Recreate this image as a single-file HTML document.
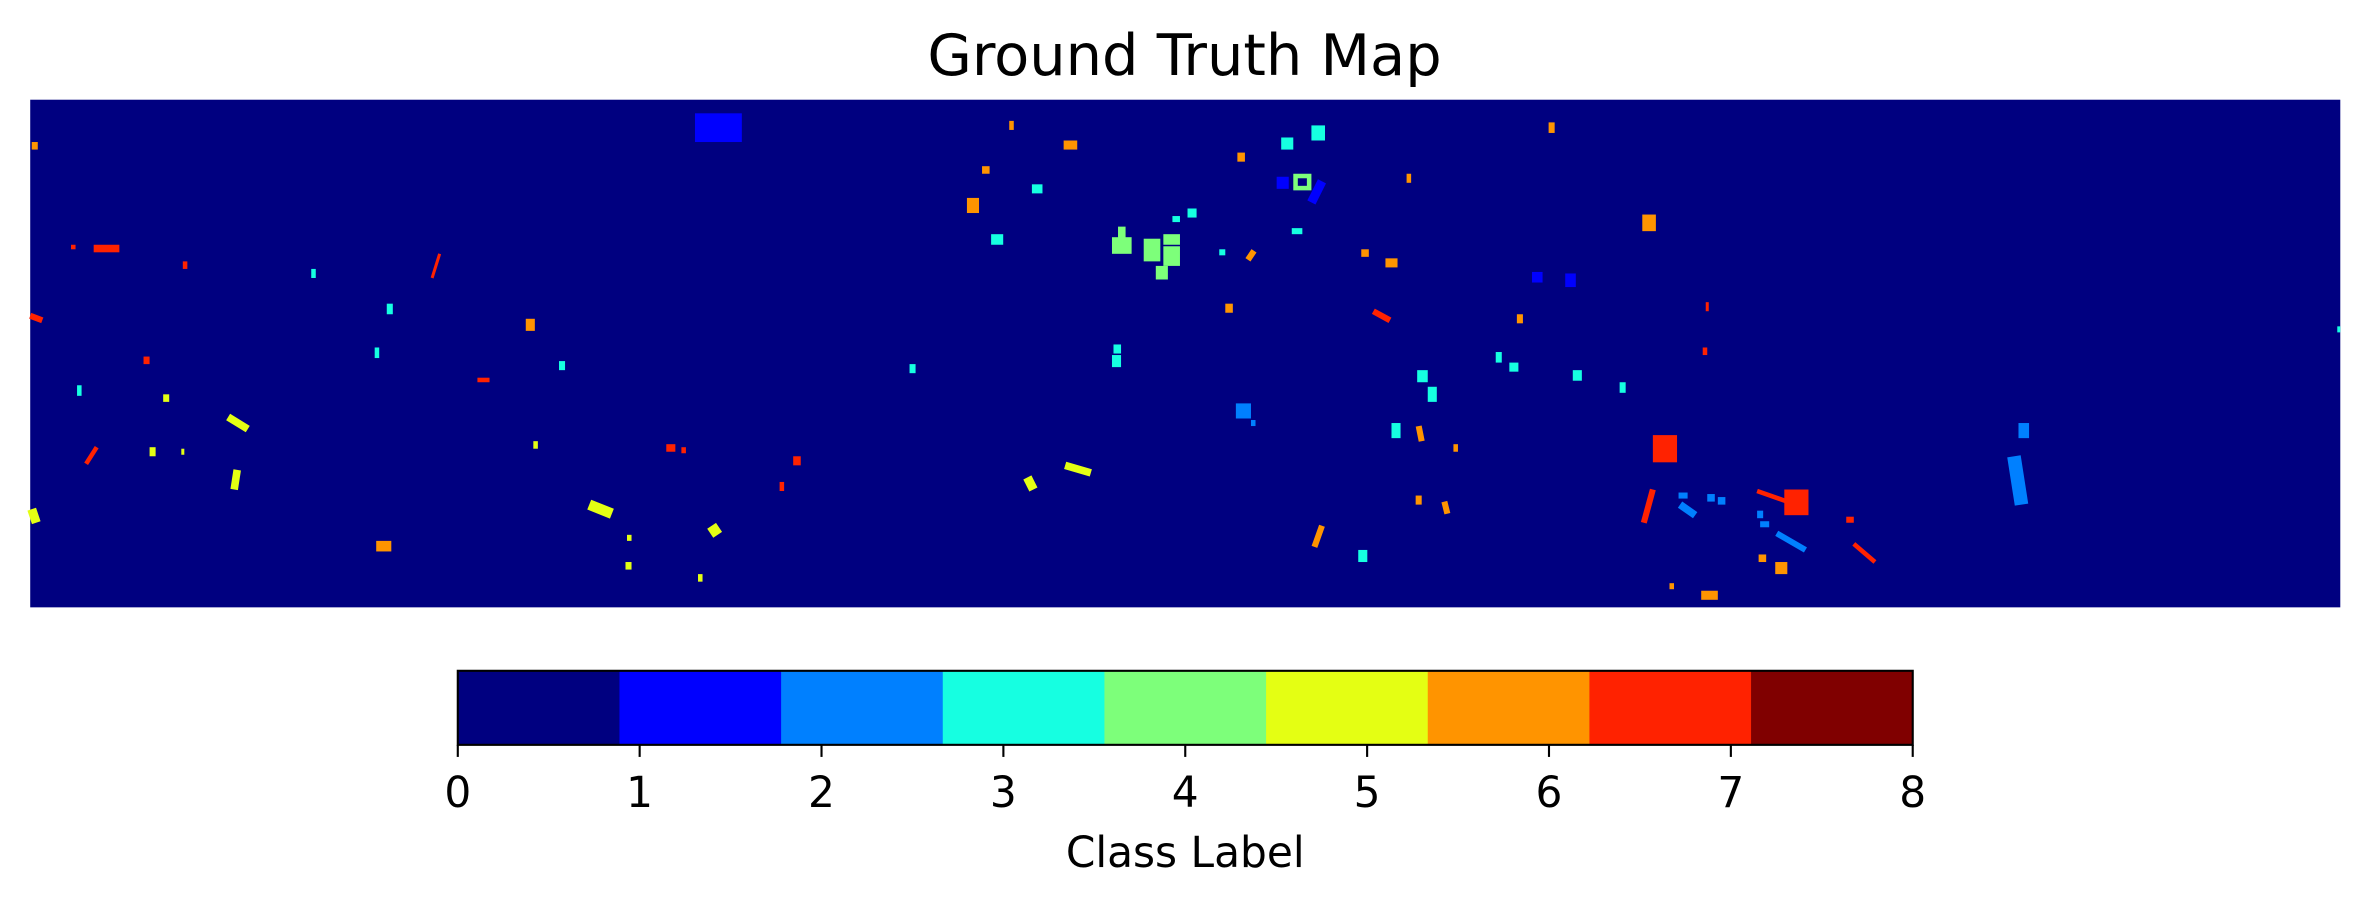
<!DOCTYPE html>
<html>
<head>
<meta charset="utf-8">
<style>
html,body{margin:0;padding:0;background:#fff;}
svg{display:block;}
text{font-family:"DejaVu Sans","Liberation Sans",sans-serif;fill:#000;}
</style>
</head>
<body>
<svg id="chart" width="2369" height="904" viewBox="0 0 1568 598.35" preserveAspectRatio="none" xmlns="http://www.w3.org/2000/svg">
  <text x="784" y="49.5" text-anchor="middle" font-size="38">Ground Truth Map</text>
  <rect x="20" y="66" width="1529" height="336" fill="#000080"/>
  <g id="patches"></g>
  <g id="cbar"></g>
  <text x="784.5" y="574" text-anchor="middle" font-size="28">Class Label</text>
</svg>
<script>
// class colours (jet, 9 classes)
const classColors = ["#000080","#0000ff","#0080ff","#16ffe1","#7dff7a","#e4ff13","#ff9400","#ff2200","#800000"];
const classTicks = [0,1,2,3,4,5,6,7,8];
// patches in map pixel coordinates; patchW: 0 = filled block, -1 = ring, >0 = stroke width of elongated patch
const patchX0 = [460,21,47,62,121,206,291,20,256,348, 248,370,95,316,51,108,151,64,99,120, 353,441,451,525,157,516,390,21,471,249, 415,414,462,668,704,650,683,640,656,868, 848,819,845,856,875,931,776,786,855,1025, 740,736,757,770,770,765,807,826,901,917, 1087,1014,1036,811,909,1004,1129,737,736,602, 990,999,1041,938,945,1072,1127,818,828,921, 939,962,1094,1336,1333,680,705,937,956,1094, 1111,1112,1130,1137,1163,1181,1163,1165,1176,1222, 1227,875,899,1164,1175,1105,1126,1547];
const patchY0 = [75,94,162,162,173,178,168,209,201,211, 230,239,236,250,255,261,276,296,296,297, 292,294,296,302,311,319,334,337,348,358, 354,372,380,80,93,110,122,131,155,83, 91,101,117,115,120,115,143,138,151,81, 150,157,158,155,163,176,165,172,165,171, 142,180,181,201,206,208,200,228,235,241, 233,240,245,245,256,253,230,267,278,280, 282,294,288,280,302,316,308,328,332,324, 326,334,327,329,325,324,338,345,353,342, 360,348,364,367,372,386,391,216];
const patchX1 = [491,25,50,79,124,209,286,28,260,354, 251,374,99,324,54,112,164,57,103,122, 356,447,454,530,155,519,405,24,475,259, 418,418,465,671,713,655,690,648,664,877, 856,824,853,868,868,934,781,792,862,1029, 745,749,768,781,781,773,811,830,906,925, 1096,1021,1043,816,920,1008,1131,742,742,606, 994,1005,1047,945,951,1076,1130,828,831,927, 941,965,1110,1343,1338,684,722,941,958,1088, 1117,1122,1135,1142,1183,1197,1167,1171,1195,1227, 1241,870,905,1169,1183,1108,1137,1549];
const patchY1 = [94,99,165,167,178,184,184,212,208,219, 237,245,241,253,262,266,284,307,302,301, 297,299,300,308,324,325,340,346,354,365, 358,377,385,86,99,115,128,141,162,93, 99,107,125,126,134,121,147,144,155,88, 158,168,173,162,176,185,169,166,170,177, 153,187,190,207,212,214,206,234,243,247, 240,246,252,253,266,260,235,277,282,290, 292,299,306,290,334,324,313,334,340,346, 330,341,332,334,332,341,343,349,364,346, 372,362,372,372,380,390,397,220];
const patchCls = [1,6,7,7,7,3,7,7,3,6, 3,3,7,7,3,5,5,7,5,5, 5,7,7,7,5,7,5,5,5,6, 5,5,5,6,6,6,3,6,3,3, 3,6,1,4,1,6,3,3,3,6, 4,4,4,4,4,4,3,6,6,6, 6,1,1,6,7,6,7,3,3,3, 3,3,3,3,3,3,7,2,2,3, 6,6,7,2,2,5,5,6,6,7, 2,2,2,2,7,7,2,2,2,7, 7,6,3,6,6,6,6,3];
const patchW = [0,0,0,0,0,0,2,4,0,0, 0,0,0,0,0,0,5,3,0,0, 0,0,0,0,5,0,7,6,7,0, 0,0,0,0,0,0,0,0,0,0, 0,0,0,-1,6,0,0,0,0,0, 0,0,0,0,0,0,0,4,0,0, 0,0,0,0,4,0,0,0,0,0, 0,0,0,0,0,0,0,0,0,0, 4,0,0,0,9,6,5,0,4,4, 0,5,0,0,3,0,0,0,4,0, 3,4,0,0,0,0,0,0];

// map axis functions (map pixel coords -> figure coords)
const mapOffsetX = 0, mapOffsetY = 0;
const xMap = c => mapOffsetX + c;
const yMap = r => mapOffsetY + r;
const NS = "http://www.w3.org/2000/svg";
const pg = document.getElementById("patches");
for (let i = 0; i < patchX0.length; i++) {
  const col = classColors[patchCls[i]];
  const w = patchW[i];
  let el;
  if (w === 0) {
    el = document.createElementNS(NS, "rect");
    el.setAttribute("x", xMap(patchX0[i]));
    el.setAttribute("y", yMap(patchY0[i]));
    el.setAttribute("width", xMap(patchX1[i]) - xMap(patchX0[i]));
    el.setAttribute("height", yMap(patchY1[i]) - yMap(patchY0[i]));
    el.setAttribute("fill", col);
  } else if (w < 0) {
    el = document.createElementNS(NS, "rect");
    el.setAttribute("x", xMap(patchX0[i]) + 1.5);
    el.setAttribute("y", yMap(patchY0[i]) + 1.5);
    el.setAttribute("width", xMap(patchX1[i]) - xMap(patchX0[i]) - 3);
    el.setAttribute("height", yMap(patchY1[i]) - yMap(patchY0[i]) - 3);
    el.setAttribute("fill", "none");
    el.setAttribute("stroke", col);
    el.setAttribute("stroke-width", 3);
  } else {
    el = document.createElementNS(NS, "line");
    el.setAttribute("x1", xMap(patchX0[i]));
    el.setAttribute("y1", yMap(patchY0[i]));
    el.setAttribute("x2", xMap(patchX1[i]));
    el.setAttribute("y2", yMap(patchY1[i]));
    el.setAttribute("stroke-width", w);
    el.setAttribute("stroke", col);
  }
  
  
  pg.appendChild(el);
}

// colorbar
const cbLeft = 303, cbRight = 1266, cbTop = 444, cbBottom = 493;
const cbX = v => cbLeft + (v - classTicks[0]) / (classTicks[classTicks.length - 1] - classTicks[0]) * (cbRight - cbLeft);
const cg = document.getElementById("cbar");
const n = classColors.length;
const span = classTicks[classTicks.length - 1] - classTicks[0];
for (let i = 0; i < n; i++) {
  const r = document.createElementNS(NS, "rect");
  const a = cbX(i * span / n), b = cbX((i + 1) * span / n);
  r.setAttribute("x", a); r.setAttribute("y", cbTop);
  r.setAttribute("width", b - a + 0.3); r.setAttribute("height", cbBottom - cbTop);
  r.setAttribute("fill", classColors[i]);
  
  
  cg.appendChild(r);
}
const border = document.createElementNS(NS, "rect");
border.setAttribute("x", cbLeft); border.setAttribute("y", cbTop);
border.setAttribute("width", cbRight - cbLeft); border.setAttribute("height", cbBottom - cbTop);
border.setAttribute("fill", "none"); border.setAttribute("stroke", "#000"); border.setAttribute("stroke-width", "1.4");


cg.appendChild(border);
classTicks.forEach(t => {
  const x = cbX(t);
  const tk = document.createElementNS(NS, "line");
  tk.setAttribute("x1", x); tk.setAttribute("x2", x);
  tk.setAttribute("y1", cbBottom); tk.setAttribute("y2", cbBottom + 8);
  tk.setAttribute("stroke", "#000"); tk.setAttribute("stroke-width", "1.4");
  
  
  cg.appendChild(tk);
  const tx = document.createElementNS(NS, "text");
  tx.setAttribute("x", x); tx.setAttribute("y", 534);
  tx.setAttribute("text-anchor", "middle"); tx.setAttribute("font-size", "28");
  tx.textContent = String(t);
  
  
  cg.appendChild(tx);
});
</script>
</body>
</html>
